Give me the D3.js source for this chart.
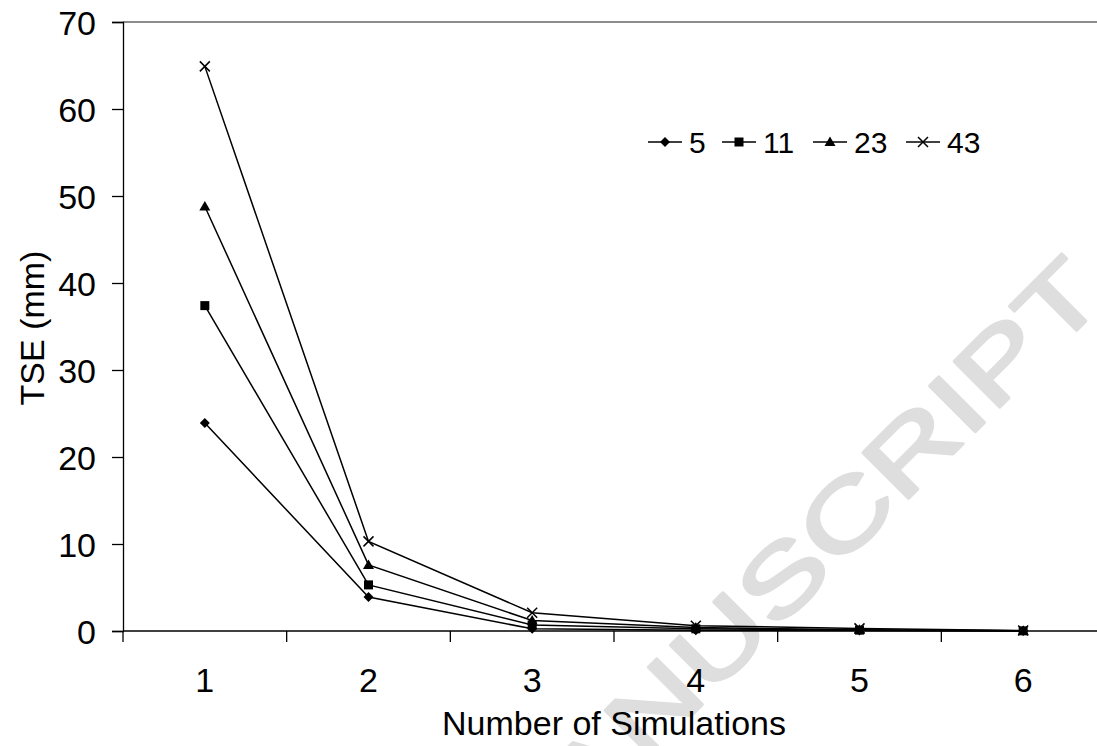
<!DOCTYPE html>
<html>
<head>
<meta charset="utf-8">
<script src="https://cdn.jsdelivr.net/npm/d3@7"></script>
<style>
  body { margin: 0; background: #fff; }
  svg { display: block; font-family: "Liberation Sans", Arial, sans-serif; }
</style>
</head>
<body>
<div id="chart"></div>
<script>
let width = 1097,
    height = 746

// chart data
let simulations = [1, 2, 3, 4, 5, 6]
let seriesNames = ["5", "11", "23", "43"]
let tse5 = [23.9, 3.9, 0.25, 0.1, 0.05, 0.01]
let tse11 = [37.4, 5.3, 0.7, 0.25, 0.1, 0.02]
let tse23 = [48.8, 7.6, 1.2, 0.4, 0.15, 0.03]
let tse43 = [64.9, 10.3, 2.1, 0.6, 0.3, 0.05]
let yTicks = [0, 10, 20, 30, 40, 50, 60, 70]
let markers = ["diamond", "square", "triangle", "cross"]

let series = seriesNames.map(function(name, i) {
  return { name: name, values: [tse5, tse11, tse23, tse43][i], marker: markers[i] }
})

let svg = d3.select("#chart").append("svg")
    .attr("width", width)
    .attr("height", height)

// watermark behind everything (glyphs are stretched along the baseline)
svg.append("text")
    .attr("transform", "translate(1109,298) rotate(-45) scale(1.37,1)")
    .attr("text-anchor", "end")
    .attr("font-size", 94)
    .attr("fill", "#dedede")
    .attr("stroke", "#dedede")
    .attr("stroke-width", 3)
    .attr("stroke-linejoin", "round")
    .text("ACCEPTED MANUSCRIPT")

let x = d3.scaleBand()
    .domain(simulations)
    .range([123, 1105])

let y = d3.scaleLinear()
    .domain([0, 70])
    .range([631, 22])

// top border of the plot area
svg.append("line")
    .attr("x1", 123).attr("x2", width)
    .attr("y1", y(70)).attr("y2", y(70))
    .attr("stroke", "#8c8c8c")
    .attr("stroke-width", 2)

// y axis
let yAxis = svg.append("g")
    .attr("transform", "translate(123,0)")
    .call(d3.axisLeft(y).tickValues(yTicks).tickSize(11).tickPadding(16))
yAxis.select(".domain").attr("stroke-width", 1.3)
yAxis.selectAll(".tick line").attr("stroke-width", 1.3)
yAxis.selectAll("text")
    .attr("font-size", 34)
    .attr("fill", "#000")
    .attr("dy", "0.36em")

// x axis, ticks sit between categories
let xAxisG = svg.append("g")
    .attr("transform", "translate(0," + y(0) + ")")
xAxisG.append("line")
    .attr("x1", 123).attr("x2", width)
    .attr("stroke", "#000")
    .attr("stroke-width", 1.3)
xAxisG.selectAll(".xtick")
    .data(simulations.concat([7]))
  .enter().append("line")
    .attr("class", "xtick")
    .attr("x1", function(d, i) { return x.range()[0] + i * x.step() })
    .attr("x2", function(d, i) { return x.range()[0] + i * x.step() })
    .attr("y1", 0).attr("y2", 11)
    .attr("stroke", "#000")
    .attr("stroke-width", 1.3)
xAxisG.selectAll(".xlabel")
    .data(simulations)
  .enter().append("text")
    .attr("class", "xlabel")
    .attr("x", function(d) { return x(d) + x.bandwidth() / 2 })
    .attr("y", 61)
    .attr("text-anchor", "middle")
    .attr("font-size", 34)
    .text(function(d) { return d })

// axis titles
svg.append("text")
    .attr("x", (x.range()[0] + x.range()[1]) / 2)
    .attr("y", 735)
    .attr("text-anchor", "middle")
    .attr("font-size", 34)
    .text("Number of Simulations")

svg.append("text")
    .attr("transform", "translate(44,328) rotate(-90)")
    .attr("text-anchor", "middle")
    .attr("font-size", 34)
    .text("TSE (mm)")

// markers
function drawMarker(g, type, cx, cy) {
  if (type === "diamond") {
    g.append("path")
        .attr("d", "M" + cx + "," + (cy - 5) + "L" + (cx + 5) + "," + cy + "L" + cx + "," + (cy + 5) + "L" + (cx - 5) + "," + cy + "Z")
        .attr("fill", "#000")
  } else if (type === "square") {
    g.append("rect")
        .attr("x", cx - 4.5).attr("y", cy - 4.5)
        .attr("width", 9).attr("height", 9)
        .attr("fill", "#000")
  } else if (type === "triangle") {
    g.append("path")
        .attr("d", "M" + cx + "," + (cy - 5.5) + "L" + (cx + 5.5) + "," + (cy + 4) + "L" + (cx - 5.5) + "," + (cy + 4) + "Z")
        .attr("fill", "#000")
  } else {
    g.append("path")
        .attr("d", "M" + (cx - 5) + "," + (cy - 5) + "L" + (cx + 5) + "," + (cy + 5) + "M" + (cx + 5) + "," + (cy - 5) + "L" + (cx - 5) + "," + (cy + 5))
        .attr("stroke", "#000")
        .attr("stroke-width", 1.5)
  }
}

let line = d3.line()
    .x(function(d, i) { return x(simulations[i]) + x.bandwidth() / 2 })
    .y(function(d) { return y(d) })

series.forEach(function(s) {
  let g = svg.append("g").attr("class", "series")
  g.append("path")
      .datum(s.values)
      .attr("d", line)
      .attr("fill", "none")
      .attr("stroke", "#000")
      .attr("stroke-width", 1.5)
  s.values.forEach(function(v, i) {
    drawMarker(g, s.marker, x(simulations[i]) + x.bandwidth() / 2, y(v))
  })
})

// legend
let legendX = [648, 722, 813, 906]
let legend = svg.append("g").attr("class", "legend")
series.forEach(function(s, i) {
  let lx = legendX[i]
  legend.append("line")
      .attr("x1", lx).attr("x2", lx + 34)
      .attr("y1", 142).attr("y2", 142)
      .attr("stroke", "#000")
      .attr("stroke-width", 1.5)
  drawMarker(legend, s.marker, lx + 17, 142)
  legend.append("text")
      .attr("x", lx + 41)
      .attr("y", 153)
      .attr("font-size", 30)
      .text(s.name)
})
</script>
</body>
</html>
